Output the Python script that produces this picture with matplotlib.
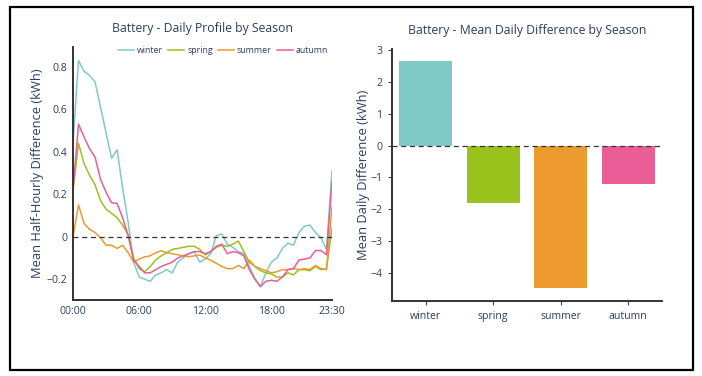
import matplotlib
matplotlib.use("Agg")
import matplotlib.pyplot as plt
from matplotlib.ticker import FuncFormatter

plt.rcParams['font.family'] = ['Open Sans', 'DejaVu Sans']

TXT = '#2a3f5f'

seasons = ['winter', 'spring', 'summer', 'autumn']
colors = ['#7fcac8', '#99c21c', '#ec9a2e', '#eb5d96']

# half-hourly mean difference (kWh), 00:00 .. 23:30
winter = [0.44, 0.83, 0.78, 0.76, 0.73, 0.61, 0.49, 0.37, 0.41, 0.23,
          0.07, -0.12, -0.19, -0.20, -0.21, -0.18, -0.17, -0.155, -0.17, -0.12,
          -0.10, -0.08, -0.07, -0.12, -0.105, -0.08, 0.005, 0.013, -0.035, -0.05,
          -0.07, -0.08, -0.14, -0.196, -0.235, -0.17, -0.12, -0.10, -0.055, -0.03,
          -0.04, 0.02, 0.05, 0.055, 0.02, -0.005, -0.06, 0.31]
spring = [0.22, 0.44, 0.345, 0.29, 0.245, 0.17, 0.13, 0.11, 0.09, 0.055,
          0.01, -0.10, -0.15, -0.165, -0.14, -0.11, -0.09, -0.075, -0.06, -0.055,
          -0.05, -0.045, -0.045, -0.06, -0.085, -0.07, -0.05, -0.04, -0.045, -0.035,
          -0.02, -0.07, -0.12, -0.14, -0.16, -0.17, -0.175, -0.19, -0.19, -0.17,
          -0.18, -0.155, -0.155, -0.16, -0.14, -0.155, -0.15, 0.04]
summer = [0.0, 0.15, 0.063, 0.035, 0.02, -0.005, -0.04, -0.04, -0.055, -0.04,
          -0.075, -0.12, -0.105, -0.095, -0.09, -0.075, -0.066, -0.075, -0.08, -0.085,
          -0.09, -0.094, -0.09, -0.086, -0.10, -0.11, -0.125, -0.14, -0.15, -0.15,
          -0.135, -0.15, -0.11, -0.14, -0.15, -0.16, -0.17, -0.165, -0.155, -0.155,
          -0.15, -0.155, -0.15, -0.155, -0.135, -0.15, -0.155, 0.14]
autumn = [0.22, 0.53, 0.47, 0.415, 0.375, 0.27, 0.21, 0.16, 0.157, 0.09,
          0.005, -0.11, -0.14, -0.17, -0.17, -0.155, -0.14, -0.13, -0.12, -0.10,
          -0.09, -0.08, -0.07, -0.07, -0.08, -0.07, -0.045, -0.035, -0.08, -0.07,
          -0.075, -0.09, -0.155, -0.20, -0.235, -0.21, -0.205, -0.21, -0.19, -0.155,
          -0.15, -0.11, -0.105, -0.10, -0.065, -0.065, -0.085, 0.26]

tick_pos = [0, 12, 24, 36, 47]
tick_lbl = ['00:00', '06:00', '12:00', '18:00', '23:30']

daily_mean = [2.64, -1.81, -4.46, -1.22]

W, H = 702, 376
fig = plt.figure(figsize=(W / 100, H / 100), dpi=100)

# frame around the whole picture
fig.patches.append(plt.Rectangle((10 / W, 6 / H), 683 / W, 363 / H, transform=fig.transFigure,
                                 fill=False, edgecolor='black', linewidth=1.6))


def style(ax):
    for s in ['top', 'right']:
        ax.spines[s].set_visible(False)
    for s in ['left', 'bottom']:
        ax.spines[s].set_color('#333333')
        ax.spines[s].set_linewidth(1.4)
    ax.tick_params(colors='#444444', labelcolor=TXT, labelsize=7.6, length=0, pad=4)


fmt = FuncFormatter(lambda v, p: '0' if abs(v) < 1e-9 else ('%g' % v).replace('-', '\u2212'))

# left: daily profile
ax1 = fig.add_axes([73 / W, 76 / H, 259 / W, 253 / H])
style(ax1)
series = [winter, spring, summer, autumn]
for name, vals, c in zip(seasons, series, colors):
    ax1.plot(range(len(vals)), vals, color=c, lw=1.1, label=name)
ax1.axhline(0, color='#333333', lw=0.9, ls=(0, (4, 3)))
ax1.set_xlim(0, 47)
ax1.set_ylim(-0.298, 0.894)
ax1.set_xticks(tick_pos)
ax1.set_xticklabels(tick_lbl)
ax1.set_yticks([-0.2, 0, 0.2, 0.4, 0.6, 0.8])
ax1.yaxis.set_major_formatter(fmt)
ax1.set_ylabel('Mean Half-Hourly Difference (kWh)', color=TXT, fontsize=9.3, labelpad=2)
ax1.set_title('Battery - Daily Profile by Season', color=TXT, fontsize=8.8, pad=11)
ax1.legend(ncol=4, loc='upper right', bbox_to_anchor=(1.015, 1.035), frameon=False,
           fontsize=6.3, handlelength=1.8, handletextpad=0.35, columnspacing=0.6,
           labelcolor=TXT)

# right: mean daily difference
ax2 = fig.add_axes([392 / W, 75 / H, 270 / W, 252 / H])
style(ax2)
ax2.tick_params(length=3)
ax2.bar(range(len(seasons)), daily_mean, width=0.79, color=colors)
ax2.plot([-0.5, 3.5], [0, 0], color='#333333', lw=0.9, ls=(0, (4, 3)))
ax2.set_xlim(-0.5, 3.5)
ax2.set_ylim(-4.88, 3.03)
ax2.set_xticks(range(len(seasons)))
ax2.set_xticklabels(seasons)
ax2.set_yticks(range(-4, 4))
ax2.yaxis.set_major_formatter(fmt)
ax2.set_ylabel('Mean Daily Difference (kWh)', color=TXT, fontsize=9.3, labelpad=0)
ax2.set_title('Battery - Mean Daily Difference by Season', color=TXT, fontsize=8.8, pad=11)

fig.savefig('out.png', dpi=100)
